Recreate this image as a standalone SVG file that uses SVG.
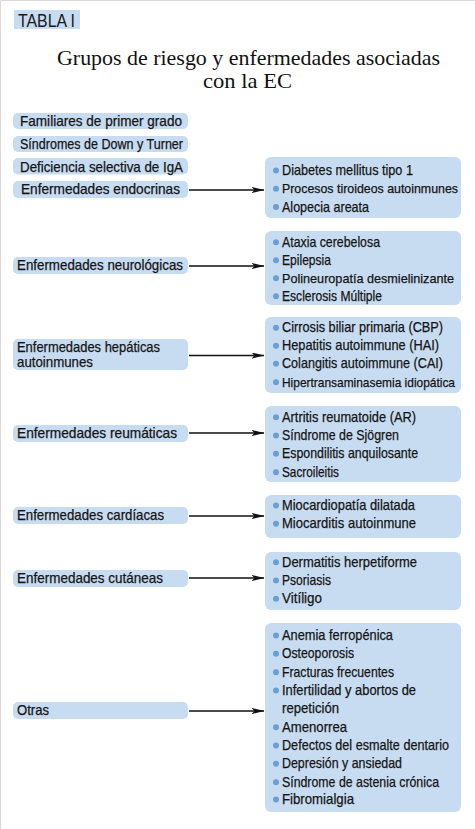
<svg xmlns="http://www.w3.org/2000/svg" width="475" height="829" viewBox="0 0 475 829">
<style>
.bg{fill:#ffffff}
.frame{stroke:#d9d9d9;stroke-width:1;fill:none}
.box{fill:#c8dcf1}
.t{font-family:"Liberation Sans",Arial,sans-serif;font-size:14.5px;fill:#141414;stroke:#141414;stroke-width:0.25}
.long{font-size:13px}
.title{font-family:"Liberation Serif","Times New Roman",serif;font-size:22px;fill:#111}
.hdr{font-family:"Liberation Sans",Arial,sans-serif;font-size:18px;fill:#1a1a1a}
.dot{fill:#6a9fd4}
.arr{stroke:#111;stroke-width:1.4;fill:none;marker-end:url(#ah)}
</style>
<defs>
<marker id="ah" viewBox="0 0 13 6" refX="12.5" refY="3" markerWidth="13" markerHeight="6" markerUnits="userSpaceOnUse" orient="auto">
<path d="M0,0 L13,3 L0,6 L3,3 z" fill="#111"/>
</marker>
</defs>
<rect class="bg" x="0" y="0" width="475" height="829"/>
<path class="frame" d="M0.5,829 V0.5 H475"/>

<g id="header">
<rect class="box" x="14" y="10" width="66" height="19"/>
<text class="hdr" x="18" y="26.5" textLength="57" lengthAdjust="spacingAndGlyphs">TABLA I</text>
</g>
<g id="title">
<text class="title" x="57" y="65" textLength="383" lengthAdjust="spacingAndGlyphs">Grupos de riesgo y enfermedades asociadas</text>
<text class="title" x="203" y="88" textLength="89" lengthAdjust="spacingAndGlyphs">con la EC</text>
</g>

<g id="familiares">
<rect class="box" x="13" y="113" width="175" height="16" rx="5"/>
<text class="t" x="20" y="126" textLength="162" lengthAdjust="spacingAndGlyphs">Familiares de primer grado</text>
</g>
<g id="sindromes">
<rect class="box" x="13" y="136" width="175" height="16" rx="5"/>
<text class="t" x="20" y="148.5" textLength="163" lengthAdjust="spacingAndGlyphs">Síndromes de Down y Turner</text>
</g>
<g id="deficiencia">
<rect class="box" x="13" y="158" width="175" height="16.5" rx="5"/>
<text class="t" x="20" y="171.5" textLength="163" lengthAdjust="spacingAndGlyphs">Deficiencia selectiva de IgA</text>
</g>
<g id="endocrinas">
<rect class="box" x="13" y="181" width="175" height="17" rx="5"/>
<text class="t" x="21" y="194" textLength="159" lengthAdjust="spacingAndGlyphs">Enfermedades endocrinas</text>
</g>
<g id="neurologicas">
<rect class="box" x="13" y="257" width="175" height="17" rx="5"/>
<text class="t" x="17" y="270" textLength="166" lengthAdjust="spacingAndGlyphs">Enfermedades neurológicas</text>
</g>
<g id="hepaticas">
<rect class="box" x="13" y="339" width="175" height="31" rx="5"/>
<text class="t" x="17" y="352" textLength="143" lengthAdjust="spacingAndGlyphs">Enfermedades hepáticas</text>
<text class="t" x="17" y="367" textLength="76" lengthAdjust="spacingAndGlyphs">autoinmunes</text>
</g>
<g id="reumaticas">
<rect class="box" x="13" y="425" width="175" height="17" rx="5"/>
<text class="t" x="17" y="438" textLength="160" lengthAdjust="spacingAndGlyphs">Enfermedades reumáticas</text>
</g>
<g id="cardiacas">
<rect class="box" x="13" y="507" width="175" height="17" rx="5"/>
<text class="t" x="17" y="520" textLength="147" lengthAdjust="spacingAndGlyphs">Enfermedades cardíacas</text>
</g>
<g id="cutaneas">
<rect class="box" x="13" y="570" width="175" height="17" rx="5"/>
<text class="t" x="17" y="583" textLength="146" lengthAdjust="spacingAndGlyphs">Enfermedades cutáneas</text>
</g>
<g id="otras">
<rect class="box" x="13" y="702" width="175" height="17" rx="5"/>
<text class="t" x="17" y="714.5" textLength="32" lengthAdjust="spacingAndGlyphs">Otras</text>
</g>

<g id="lista-endocrinas">
<rect class="box" x="265" y="157" width="196" height="61" rx="6"/>
<circle class="dot" cx="276" cy="170.5" r="3"/>
<text class="t" x="282" y="175" textLength="131" lengthAdjust="spacingAndGlyphs">Diabetes mellitus tipo 1</text>
<circle class="dot" cx="276" cy="188.8" r="3"/>
<text class="t long" x="282" y="193.3" textLength="176" lengthAdjust="spacingAndGlyphs">Procesos tiroideos autoinmunes</text>
<circle class="dot" cx="276" cy="207" r="3"/>
<text class="t" x="282" y="211.5" textLength="87" lengthAdjust="spacingAndGlyphs">Alopecia areata</text>
</g>
<g id="lista-neurologicas">
<rect class="box" x="265" y="231" width="196" height="74" rx="6"/>
<circle class="dot" cx="276" cy="242.2" r="3"/>
<text class="t" x="282" y="246.7" textLength="98" lengthAdjust="spacingAndGlyphs">Ataxia cerebelosa</text>
<circle class="dot" cx="276" cy="260.2" r="3"/>
<text class="t" x="282" y="264.7" textLength="49" lengthAdjust="spacingAndGlyphs">Epilepsia</text>
<circle class="dot" cx="276" cy="278.2" r="3"/>
<text class="t long" x="282" y="282.7" textLength="172" lengthAdjust="spacingAndGlyphs">Polineuropatía desmielinizante</text>
<circle class="dot" cx="276" cy="296.2" r="3"/>
<text class="t" x="282" y="300.7" textLength="100" lengthAdjust="spacingAndGlyphs">Esclerosis Múltiple</text>
</g>
<g id="lista-hepaticas">
<rect class="box" x="265" y="317" width="196" height="76" rx="6"/>
<circle class="dot" cx="276" cy="327.8" r="3"/>
<text class="t" x="282" y="332.3" textLength="161" lengthAdjust="spacingAndGlyphs">Cirrosis biliar primaria (CBP)</text>
<circle class="dot" cx="276" cy="345.8" r="3"/>
<text class="t" x="282" y="350.3" textLength="157" lengthAdjust="spacingAndGlyphs">Hepatitis autoimmune (HAI)</text>
<circle class="dot" cx="276" cy="363.8" r="3"/>
<text class="t" x="282" y="368.3" textLength="161" lengthAdjust="spacingAndGlyphs">Colangitis autoimmune (CAI)</text>
<circle class="dot" cx="276" cy="382.3" r="3"/>
<text class="t long" x="282" y="386.8" textLength="173" lengthAdjust="spacingAndGlyphs">Hipertransaminasemia idiopática</text>
</g>
<g id="lista-reumaticas">
<rect class="box" x="265" y="406" width="196" height="76" rx="6"/>
<circle class="dot" cx="276" cy="417.2" r="3"/>
<text class="t" x="282" y="421.7" textLength="134" lengthAdjust="spacingAndGlyphs">Artritis reumatoide (AR)</text>
<circle class="dot" cx="276" cy="435.5" r="3"/>
<text class="t" x="282" y="440" textLength="117" lengthAdjust="spacingAndGlyphs">Síndrome de Sjögren</text>
<circle class="dot" cx="276" cy="453.8" r="3"/>
<text class="t" x="282" y="458.3" textLength="136" lengthAdjust="spacingAndGlyphs">Espondilitis anquilosante</text>
<circle class="dot" cx="276" cy="472.2" r="3"/>
<text class="t" x="282" y="476.7" textLength="57" lengthAdjust="spacingAndGlyphs">Sacroileitis</text>
</g>
<g id="lista-cardiacas">
<rect class="box" x="265" y="495" width="196" height="43" rx="6"/>
<circle class="dot" cx="276" cy="505.5" r="3"/>
<text class="t" x="282" y="510" textLength="133" lengthAdjust="spacingAndGlyphs">Miocardiopatía dilatada</text>
<circle class="dot" cx="276" cy="523.8" r="3"/>
<text class="t" x="282" y="528.3" textLength="134" lengthAdjust="spacingAndGlyphs">Miocarditis autoinmune</text>
</g>
<g id="lista-cutaneas">
<rect class="box" x="265" y="552" width="196" height="58" rx="6"/>
<circle class="dot" cx="276" cy="562.2" r="3"/>
<text class="t" x="282" y="566.7" textLength="135" lengthAdjust="spacingAndGlyphs">Dermatitis herpetiforme</text>
<circle class="dot" cx="276" cy="580.5" r="3"/>
<text class="t" x="282" y="585" textLength="49" lengthAdjust="spacingAndGlyphs">Psoriasis</text>
<circle class="dot" cx="276" cy="598.8" r="3"/>
<text class="t" x="282" y="603.3" textLength="40" lengthAdjust="spacingAndGlyphs">Vitíligo</text>
</g>
<g id="lista-otras">
<rect class="box" x="265" y="623" width="196" height="189" rx="6"/>
<circle class="dot" cx="276" cy="635.5" r="3"/>
<text class="t" x="282" y="640" textLength="111" lengthAdjust="spacingAndGlyphs">Anemia ferropénica</text>
<circle class="dot" cx="276" cy="653.8" r="3"/>
<text class="t" x="282" y="658.3" textLength="72" lengthAdjust="spacingAndGlyphs">Osteoporosis</text>
<circle class="dot" cx="276" cy="672.2" r="3"/>
<text class="t" x="282" y="676.7" textLength="112" lengthAdjust="spacingAndGlyphs">Fracturas frecuentes</text>
<circle class="dot" cx="276" cy="690.5" r="3"/>
<text class="t" x="282" y="695" textLength="134" lengthAdjust="spacingAndGlyphs">Infertilidad y abortos de</text>
<text class="t" x="282" y="713.3" textLength="57" lengthAdjust="spacingAndGlyphs">repetición</text>
<circle class="dot" cx="276" cy="727.2" r="3"/>
<text class="t" x="282" y="731.7" textLength="65" lengthAdjust="spacingAndGlyphs">Amenorrea</text>
<circle class="dot" cx="276" cy="745.5" r="3"/>
<text class="t" x="282" y="750" textLength="167" lengthAdjust="spacingAndGlyphs">Defectos del esmalte dentario</text>
<circle class="dot" cx="276" cy="763.8" r="3"/>
<text class="t" x="282" y="768.3" textLength="120" lengthAdjust="spacingAndGlyphs">Depresión y ansiedad</text>
<circle class="dot" cx="276" cy="782.2" r="3"/>
<text class="t" x="282" y="786.7" textLength="157" lengthAdjust="spacingAndGlyphs">Síndrome de astenia crónica</text>
<circle class="dot" cx="276" cy="799.5" r="3"/>
<text class="t" x="282" y="804" textLength="72" lengthAdjust="spacingAndGlyphs">Fibromialgia</text>
</g>

<g id="connectors">
<line class="arr" x1="189" y1="190" x2="264" y2="190"/>
<line class="arr" x1="189" y1="266" x2="264" y2="266"/>
<line class="arr" x1="189" y1="355.5" x2="264" y2="355.5"/>
<line class="arr" x1="189" y1="433" x2="264" y2="433"/>
<line class="arr" x1="189" y1="516" x2="264" y2="516"/>
<line class="arr" x1="189" y1="578" x2="264" y2="578"/>
<line class="arr" x1="189" y1="711" x2="264" y2="711"/>
</g>
</svg>
